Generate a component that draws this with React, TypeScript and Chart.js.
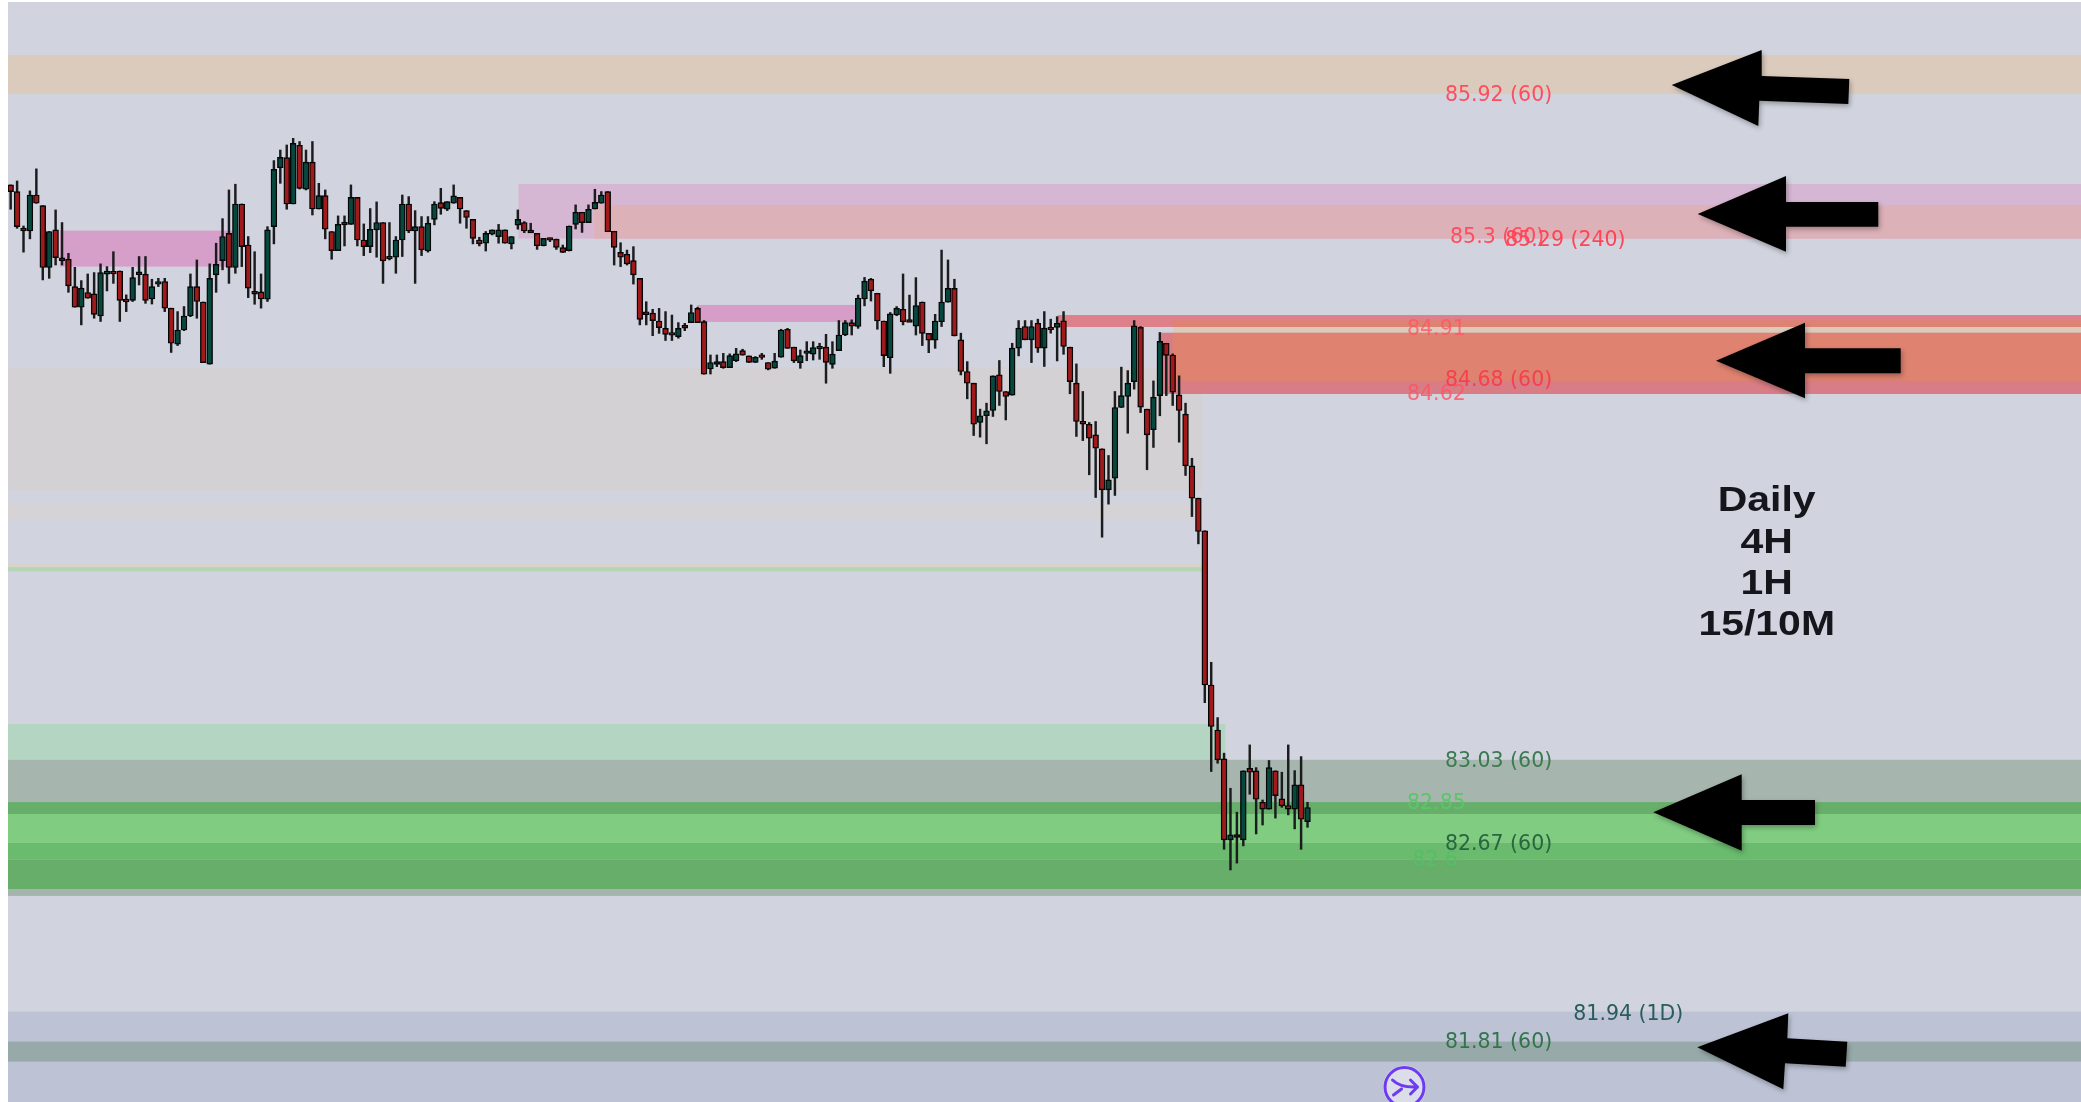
import React, { useEffect, useRef } from "react";
import { Chart, registerables } from "chart.js";

Chart.register(...registerables);

// ---- candles (prices) ----
const opens = [
  85.534,85.505,85.346,85.333,85.490,85.444,85.174,85.338,85.216,85.210,
  85.091,85.001,85.065,85.059,84.963,85.145,85.158,85.159,85.036,85.031,
  85.155,85.145,85.037,85.101,85.113,84.997,84.840,84.902,84.963,85.091,
  85.024,84.753,85.142,85.204,85.323,85.174,85.451,85.272,85.070,85.068,
  85.036,85.352,85.609,85.653,85.451,85.707,85.515,85.633,85.429,85.487,
  85.331,85.248,85.372,85.362,85.480,85.294,85.265,85.338,85.370,85.223,
  85.219,85.294,85.451,85.333,85.352,85.246,85.384,85.457,85.428,85.454,
  85.480,85.422,85.384,85.294,85.280,85.319,85.309,85.338,85.277,85.359,
  85.370,85.337,85.323,85.269,85.305,85.298,85.261,85.248,85.362,85.415,
  85.370,85.429,85.454,85.505,85.332,85.240,85.232,85.204,85.127,84.981,
  84.975,84.941,84.909,84.891,84.873,84.922,84.934,84.996,84.938,84.732,
  84.752,84.764,84.738,84.768,84.812,84.789,84.761,84.794,84.760,84.736,
  84.783,84.905,84.827,84.760,84.800,84.797,84.831,84.827,84.752,84.812,
  84.880,84.934,84.917,85.037,85.123,85.062,84.941,84.781,84.967,84.992,
  84.947,84.919,85.024,84.887,84.858,84.938,85.023,85.083,84.859,84.721,
  84.670,84.499,84.528,84.551,84.706,84.634,84.618,84.823,84.917,84.859,
  84.931,84.823,84.915,84.913,84.942,84.827,84.670,84.504,84.491,84.445,
  84.384,84.205,84.256,84.564,84.612,84.677,84.913,84.557,84.467,84.616,
  84.844,84.793,84.619,84.535,84.310,84.169,84.027,83.355,83.159,83.033,
  82.680,82.703,82.680,82.992,82.981,82.844,82.814,82.981,82.859,82.830,
  82.814,82.920,82.760,
];
const highs = [
  85.534,85.551,85.355,85.508,85.604,85.444,85.331,85.425,85.370,85.236,
  85.175,85.117,85.146,85.152,85.190,85.178,85.243,85.159,85.055,85.175,
  85.222,85.222,85.123,85.127,85.127,84.997,84.982,85.004,85.146,85.207,
  85.024,85.190,85.280,85.387,85.512,85.537,85.451,85.309,85.243,85.146,
  85.352,85.640,85.686,85.708,85.737,85.723,85.686,85.723,85.541,85.512,
  85.331,85.399,85.399,85.534,85.480,85.364,85.431,85.460,85.370,85.370,
  85.309,85.490,85.483,85.422,85.396,85.396,85.461,85.519,85.461,85.534,
  85.480,85.422,85.384,85.306,85.331,85.338,85.362,85.338,85.309,85.425,
  85.374,85.367,85.323,85.301,85.303,85.298,85.272,85.355,85.447,85.415,
  85.447,85.515,85.505,85.505,85.332,85.282,85.250,85.265,85.127,85.025,
  84.992,84.996,84.982,84.967,84.934,84.931,85.011,85.001,84.943,84.793,
  84.793,84.800,84.798,84.822,84.818,84.789,84.786,84.800,84.760,84.800,
  84.905,84.909,84.827,84.815,84.851,84.851,84.844,84.883,84.851,84.943,
  84.943,84.946,85.054,85.131,85.127,85.062,84.941,84.978,85.004,85.146,
  85.054,85.130,85.024,84.887,84.970,85.250,85.207,85.123,84.888,84.764,
  84.670,84.557,84.583,84.702,84.769,84.634,84.844,84.943,84.943,84.943,
  84.949,84.982,84.949,84.960,84.982,84.827,84.754,84.634,84.499,84.503,
  84.384,84.355,84.634,84.740,84.725,84.943,84.917,84.557,84.680,84.891,
  84.844,84.798,84.702,84.583,84.343,84.169,84.027,83.454,83.213,83.058,
  82.905,82.801,82.981,83.094,82.995,82.854,83.026,82.981,82.975,83.094,
  82.982,83.043,82.844,
];
const lows = [
  85.428,85.345,85.241,85.299,85.454,85.120,85.127,85.185,85.185,85.066,
  85.001,84.924,85.040,84.953,84.939,85.072,85.105,84.939,84.982,85.026,
  85.098,85.018,85.015,85.091,84.982,84.804,84.834,84.899,84.960,84.953,
  84.760,84.753,85.066,85.164,85.105,85.149,85.178,85.043,85.014,84.997,
  85.026,85.277,85.541,85.428,85.451,85.516,85.512,85.403,85.429,85.299,
  85.210,85.248,85.268,85.362,85.268,85.226,85.239,85.219,85.105,85.207,
  85.149,85.222,85.326,85.105,85.226,85.241,85.360,85.406,85.422,85.454,
  85.367,85.345,85.277,85.268,85.246,85.316,85.280,85.280,85.255,85.341,
  85.326,85.329,85.253,85.268,85.287,85.253,85.239,85.246,85.342,85.327,
  85.370,85.429,85.454,85.330,85.185,85.178,85.185,85.102,84.924,84.924,
  84.877,84.887,84.856,84.856,84.866,84.899,84.934,84.934,84.709,84.710,
  84.742,84.735,84.738,84.764,84.792,84.760,84.760,84.774,84.728,84.735,
  84.783,84.822,84.760,84.735,84.768,84.771,84.774,84.670,84.735,84.812,
  84.877,84.880,84.909,85.007,85.028,84.905,84.742,84.713,84.964,84.924,
  84.938,84.880,84.834,84.803,84.822,84.917,85.023,84.876,84.706,84.602,
  84.442,84.435,84.406,84.525,84.573,84.510,84.618,84.789,84.859,84.760,
  84.804,84.743,84.888,84.767,84.796,84.624,84.438,84.420,84.271,84.172,
  83.999,84.143,84.181,84.564,84.452,84.644,84.542,84.293,84.390,84.528,
  84.616,84.573,84.413,84.268,84.089,83.970,83.278,82.978,83.014,82.639,
  82.549,82.579,82.654,82.879,82.706,82.745,82.814,82.775,82.822,82.789,
  82.728,82.639,82.735,
];
const closes = [
  85.505,85.352,85.334,85.490,85.454,85.174,85.331,85.217,85.204,85.094,
  85.001,85.084,85.040,84.970,85.152,85.159,85.146,85.031,85.024,85.130,
  85.143,85.031,85.091,85.113,84.997,84.844,84.902,84.963,85.091,85.026,
  84.760,85.127,85.188,85.309,85.174,85.451,85.265,85.084,85.058,85.037,
  85.338,85.602,85.654,85.451,85.715,85.519,85.633,85.429,85.487,85.341,
  85.248,85.362,85.360,85.480,85.294,85.265,85.341,85.370,85.203,85.211,
  85.294,85.451,85.333,85.352,85.251,85.367,85.451,85.432,85.461,85.486,
  85.429,85.392,85.301,85.277,85.323,85.338,85.338,85.280,85.309,85.384,
  85.333,85.325,85.269,85.301,85.293,85.262,85.240,85.355,85.415,85.370,
  85.428,85.458,85.490,85.330,85.262,85.219,85.190,85.142,84.948,84.969,
  84.943,84.912,84.883,84.879,84.909,84.910,84.978,84.934,84.709,84.760,
  84.764,84.738,84.790,84.798,84.792,84.761,84.783,84.782,84.731,84.766,
  84.902,84.822,84.767,84.790,84.811,84.825,84.819,84.761,84.797,84.880,
  84.934,84.919,85.040,85.115,85.072,84.941,84.790,84.972,84.996,84.938,
  84.935,85.008,84.887,84.858,84.941,85.024,85.083,84.876,84.721,84.670,
  84.491,84.528,84.550,84.702,84.634,84.612,84.823,84.910,84.859,84.917,
  84.823,84.910,84.903,84.931,84.830,84.677,84.503,84.492,84.431,84.387,
  84.205,84.249,84.564,84.616,84.670,84.920,84.566,84.445,84.609,84.852,
  84.791,84.631,84.551,84.310,84.169,84.024,83.355,83.174,83.029,82.680,
  82.702,82.691,82.981,82.975,82.857,82.814,82.995,82.873,82.828,82.814,
  82.920,82.770,82.821,
];

// ---- zones: candle-index span and price span ----
const X_MIN = -0.416;
const X_MAX = 322.48;
const zoneFrom = [X_MIN, X_MIN, X_MIN, X_MIN, X_MIN, X_MIN, X_MIN, X_MIN, X_MIN, X_MIN, X_MIN, X_MIN, X_MIN, X_MIN, 79.1, 90.9, 7.7, 106.9, 163.1, 179.2, 181.0, 181.0, 181.0];
const zoneTo = [X_MAX, X_MAX, 185.6, 185.6, 185.7, 185.7, 189.2, X_MAX, X_MAX, X_MAX, X_MAX, X_MAX, X_MAX, X_MAX, X_MAX, X_MAX, 34.6, 132, X_MAX, X_MAX, X_MAX, X_MAX, X_MAX];
const zoneHigh = [86.100, 81.932, 84.737, 84.144, 83.885, 83.868, 83.185, 83.029, 82.845, 82.793, 82.667, 82.593, 82.466, 81.801, 85.538, 85.447, 85.335, 85.011, 84.967, 84.890, 84.943, 84.915, 84.890];
const zoneLow = [85.930, 81.538, 84.202, 84.079, 83.868, 83.850, 83.029, 82.845, 82.793, 82.667, 82.593, 82.466, 82.436, 81.714, 85.300, 85.300, 85.178, 84.937, 84.915, 84.623, 84.915, 84.890, 84.680];
const zoneColors = ["#dbcbbc", "#bdc3d5", "#d3d1d4", "#d5d3d5", "#d5d3ca", "#b5d4b5", "#b3d5c1", "#a6b5ad", "#67ae6a", "#80cd81", "#6abb6d", "#67ae6b", "#a5b5ad", "#97aaa9", "#d5b6d3", "#ddb1b8", "#d59fc9", "#d69dc8", "#dd8089", "#d87c85", "#de8272", "#dccbbc", "#df8270"];

// ---- price labels ----
const labelTexts = ["85.92 (60)", "85.3 (60)", "85.29 (240)", "84.91", "84.62", "84.68 (60)", "83.03 (60)", "82.85", "82.67 (60)", "82.6", "81.94 (1D)", "81.81 (60)"];
const labelIndex = [223.4, 224.2, 232.8, 217.5, 217.5, 223.4, 223.4, 217.5, 223.4, 218.3, 243.4, 223.4];
const labelPrice = [85.925, 85.306, 85.289, 84.905, 84.622, 84.680, 83.020, 82.840, 82.660, 82.590, 81.920, 81.795];
const labelColors = ["#ff4d5e", "#ff4d5e", "#ff4455", "rgba(255,85,100,0.8)", "rgba(255,85,100,0.85)", "#f5404f", "#3a7a50", "#5cc56c", "#28663f", "#57bd66", "#2a5c5d", "#33754b"];

// ---- hand-drawn annotations on top of the chart ----
const arrows: number[][][] = [
  [[1671.7, 85], [1761.7, 50], [1761.7, 76], [1849.3, 79], [1848.3, 104], [1759.3, 100.7], [1758.3, 126]],
  [[1697.7, 214], [1786, 176], [1786, 202], [1878.3, 202], [1878.3, 226.7], [1786, 226.7], [1786, 251.7]],
  [[1716, 360.7], [1805, 322.7], [1805, 348.3], [1900.7, 348.3], [1900.7, 373.3], [1805, 373.3], [1805, 398.3]],
  [[1653.3, 812.3], [1741.7, 774.3], [1741.7, 800], [1815, 800], [1815, 825], [1741.7, 825], [1741.7, 850.7]],
  [[1697.3, 1047.3], [1788.3, 1013.3], [1787.3, 1038.3], [1847.3, 1041.7], [1845.7, 1066.7], [1785, 1063.3], [1783.3, 1089.3]],
];
const noteLines = ["Daily", "4H", "1H", "15/10M"];
const noteBaselines = [511, 552.7, 594, 635];

const overlayPlugin = {
  id: "overlay",
  beforeDatasetsDraw(chart: any) {
    const { ctx, chartArea, scales } = chart;
    ctx.save();
    ctx.fillStyle = "#d1d4de";
    ctx.fillRect(chartArea.left, chartArea.top, chartArea.width, chartArea.height);
    zoneFrom.forEach((from, k) => {
      const x0 = scales.x.getPixelForValue(from);
      const x1 = scales.x.getPixelForValue(zoneTo[k]);
      const y0 = scales.y.getPixelForValue(zoneHigh[k]);
      const y1 = scales.y.getPixelForValue(zoneLow[k]);
      ctx.fillStyle = zoneColors[k];
      ctx.fillRect(x0, y0, x1 - x0, y1 - y0);
    });
    ctx.restore();
  },
  afterDatasetsDraw(chart: any) {
    const { ctx, scales } = chart;
    ctx.save();
    ctx.font = '20.5px "DejaVu Sans"';
    ctx.textBaseline = "middle";
    ctx.textAlign = "left";
    labelTexts.forEach((t, k) => {
      ctx.fillStyle = labelColors[k];
      ctx.fillText(t, scales.x.getPixelForValue(labelIndex[k]), scales.y.getPixelForValue(labelPrice[k]));
    });

    // annotation text, slightly stretched like the pasted original
    ctx.fillStyle = "#14161c";
    ctx.font = 'bold 35px "Liberation Sans"';
    ctx.textAlign = "center";
    ctx.textBaseline = "alphabetic";
    noteLines.forEach((t, k) => {
      ctx.save();
      ctx.translate(1766.7, noteBaselines[k]);
      ctx.scale(1.17, 1);
      ctx.fillText(t, 0, 0);
      ctx.restore();
    });

    // arrows
    ctx.fillStyle = "#000";
    ctx.shadowColor = "rgba(0,0,0,0.3)";
    ctx.shadowBlur = 5;
    ctx.shadowOffsetX = 1.5;
    ctx.shadowOffsetY = 2.5;
    arrows.forEach((pts) => {
      ctx.beginPath();
      pts.forEach((p, i) => (i ? ctx.lineTo(p[0], p[1]) : ctx.moveTo(p[0], p[1])));
      ctx.closePath();
      ctx.fill();
    });
    ctx.shadowColor = "transparent";
    ctx.shadowBlur = 0;
    ctx.shadowOffsetX = 0;
    ctx.shadowOffsetY = 0;

    // round purple icon
    const cx = 1404.5;
    const cy = 1087;
    ctx.fillStyle = "rgba(255,255,255,0.45)";
    ctx.beginPath();
    ctx.arc(cx, cy, 21.5, 0, Math.PI * 2);
    ctx.fill();
    ctx.strokeStyle = "#6d3bf2";
    ctx.lineWidth = 3;
    ctx.beginPath();
    ctx.arc(cx, cy, 19.5, 0, Math.PI * 2);
    ctx.stroke();
    ctx.lineWidth = 3;
    ctx.lineCap = "round";
    ctx.lineJoin = "round";
    ctx.beginPath();
    ctx.moveTo(cx - 12, cy - 7);
    ctx.quadraticCurveTo(cx - 4, cy + 1, cx + 13, cy);
    ctx.moveTo(cx + 6, cy - 7);
    ctx.lineTo(cx + 13, cy);
    ctx.lineTo(cx + 6, cy + 7);
    ctx.moveTo(cx - 11, cy + 8);
    ctx.lineTo(cx - 3, cy + 2);
    ctx.stroke();
    ctx.restore();
  },
};

export default function App() {
  const ref = useRef<HTMLCanvasElement | null>(null);
  useEffect(() => {
    if (!ref.current) return;
    const up = "#06483e";
    const down = "#a01a1c";
    const chart = new Chart(ref.current, {
      type: "bar",
      data: {
        datasets: [
          {
            label: "Body",
            data: opens.map((o, i) => ({ x: i, y: [o, closes[i]] })) as any,
            backgroundColor: opens.map((o, i) => (closes[i] >= o ? up : down)),
            borderColor: "#050505",
            borderWidth: 1.4,
            borderSkipped: false,
            barThickness: 5.8,
            grouped: false,
          },
          {
            label: "Wick",
            data: highs.map((h, i) => ({ x: i, y: [lows[i], h] })) as any,
            backgroundColor: "#1a1c1e",
            borderWidth: 0,
            barThickness: 1.8,
            grouped: false,
          },
        ],
      },
      options: {
        responsive: false,
        animation: false,
        layout: { padding: { left: 8, top: 2, right: 0, bottom: 0 } },
        plugins: { legend: { display: false }, tooltip: { enabled: false }, title: { display: false } },
        scales: {
          x: { type: "linear", display: false, min: X_MIN, max: X_MAX, offset: false },
          y: { display: false, min: 81.538, max: 86.331, beginAtZero: false },
        },
      },
      plugins: [overlayPlugin],
    } as any);
    return () => chart.destroy();
  }, []);
  return (
    <canvas
      ref={ref}
      width={2081}
      height={1102}
      style={{ position: "absolute", left: 0, top: 0, width: 2081, height: 1102, display: "block", filter: "blur(0.6px)" }}
    />
  );
}
